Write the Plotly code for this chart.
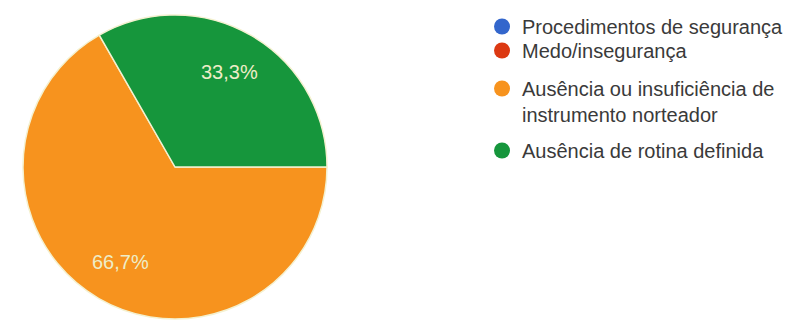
import math
import plotly.graph_objects as go

# Categories and their shares (percent of responses)
labels = [
    "Procedimentos de segurança",
    "Medo/insegurança",
    "Ausência ou insuficiência de<br>instrumento norteador",
    "Ausência de rotina definida",
]
values = [0.0, 0.0, 66.7, 33.3]
colors = ["#3366cc", "#dc3912", "#f7931e", "#16963c"]

W, H = 790, 321
FONT = "Arial, Liberation Sans, sans-serif"

# Pie geometry (pixels): centre and radius
CX, CY, R = 175, 167, 152
START = 90  # first slice starts at 3 o'clock, going clockwise

fig = go.Figure()

fig.add_trace(go.Pie(
    labels=labels,
    values=values,
    sort=False,
    direction="clockwise",
    rotation=START,
    marker=dict(colors=colors, line=dict(color="#f4f1d0", width=1.5)),
    textinfo="none",
    showlegend=False,
    hoverinfo="label+percent",
    domain=dict(x=[(CX - R) / W, (CX + R) / W], y=[1 - (CY + R) / H, 1 - (CY - R) / H]),
))

# Percentage labels placed at each slice's mid-angle
total = sum(values)
acc = 0.0
for v in values:
    if v > 0:
        mid = START + 360 * (acc + v / 2) / total
        t = math.radians(mid)
        px = CX + 0.72 * R * math.sin(t)
        py = CY - 0.72 * R * math.cos(t)
        fig.add_annotation(
            x=px / W, y=1 - py / H, xref="paper", yref="paper",
            xanchor="center", yanchor="middle",
            text=f"{v / total * 100:.1f}%".replace(".", ","),
            showarrow=False,
            font=dict(family=FONT, size=20, color="#eeedc8"),
        )
    acc += v

# Legend entries with round markers, one legend per entry for spacing control
legend_tops = [7, 31, 69, 131]
for i, (lab, col) in enumerate(zip(labels, colors)):
    fig.add_trace(go.Scatter(
        x=[None], y=[None], mode="markers", name=lab,
        marker=dict(color=col, size=17, symbol="circle"),
        legend="legend" if i == 0 else f"legend{i + 1}",
        hoverinfo="skip",
    ))

legend_common = dict(
    xanchor="left", yanchor="top", x=482 / W,
    bgcolor="rgba(0,0,0,0)", borderwidth=0,
    font=dict(family=FONT, size=20, color="#3a3a3a"),
    valign="top", itemsizing="trace",
    tracegroupgap=0,
)
layout_legends = {}
for i, top in enumerate(legend_tops):
    key = "legend" if i == 0 else f"legend{i + 1}"
    layout_legends[key] = dict(legend_common, y=1 - top / H)

fig.update_layout(
    width=W, height=H,
    margin=dict(l=0, r=0, t=0, b=0),
    paper_bgcolor="white", plot_bgcolor="white",
    separators=",.",
    xaxis=dict(visible=False), yaxis=dict(visible=False),
    **layout_legends,
)

fig.write_html("out.html")
